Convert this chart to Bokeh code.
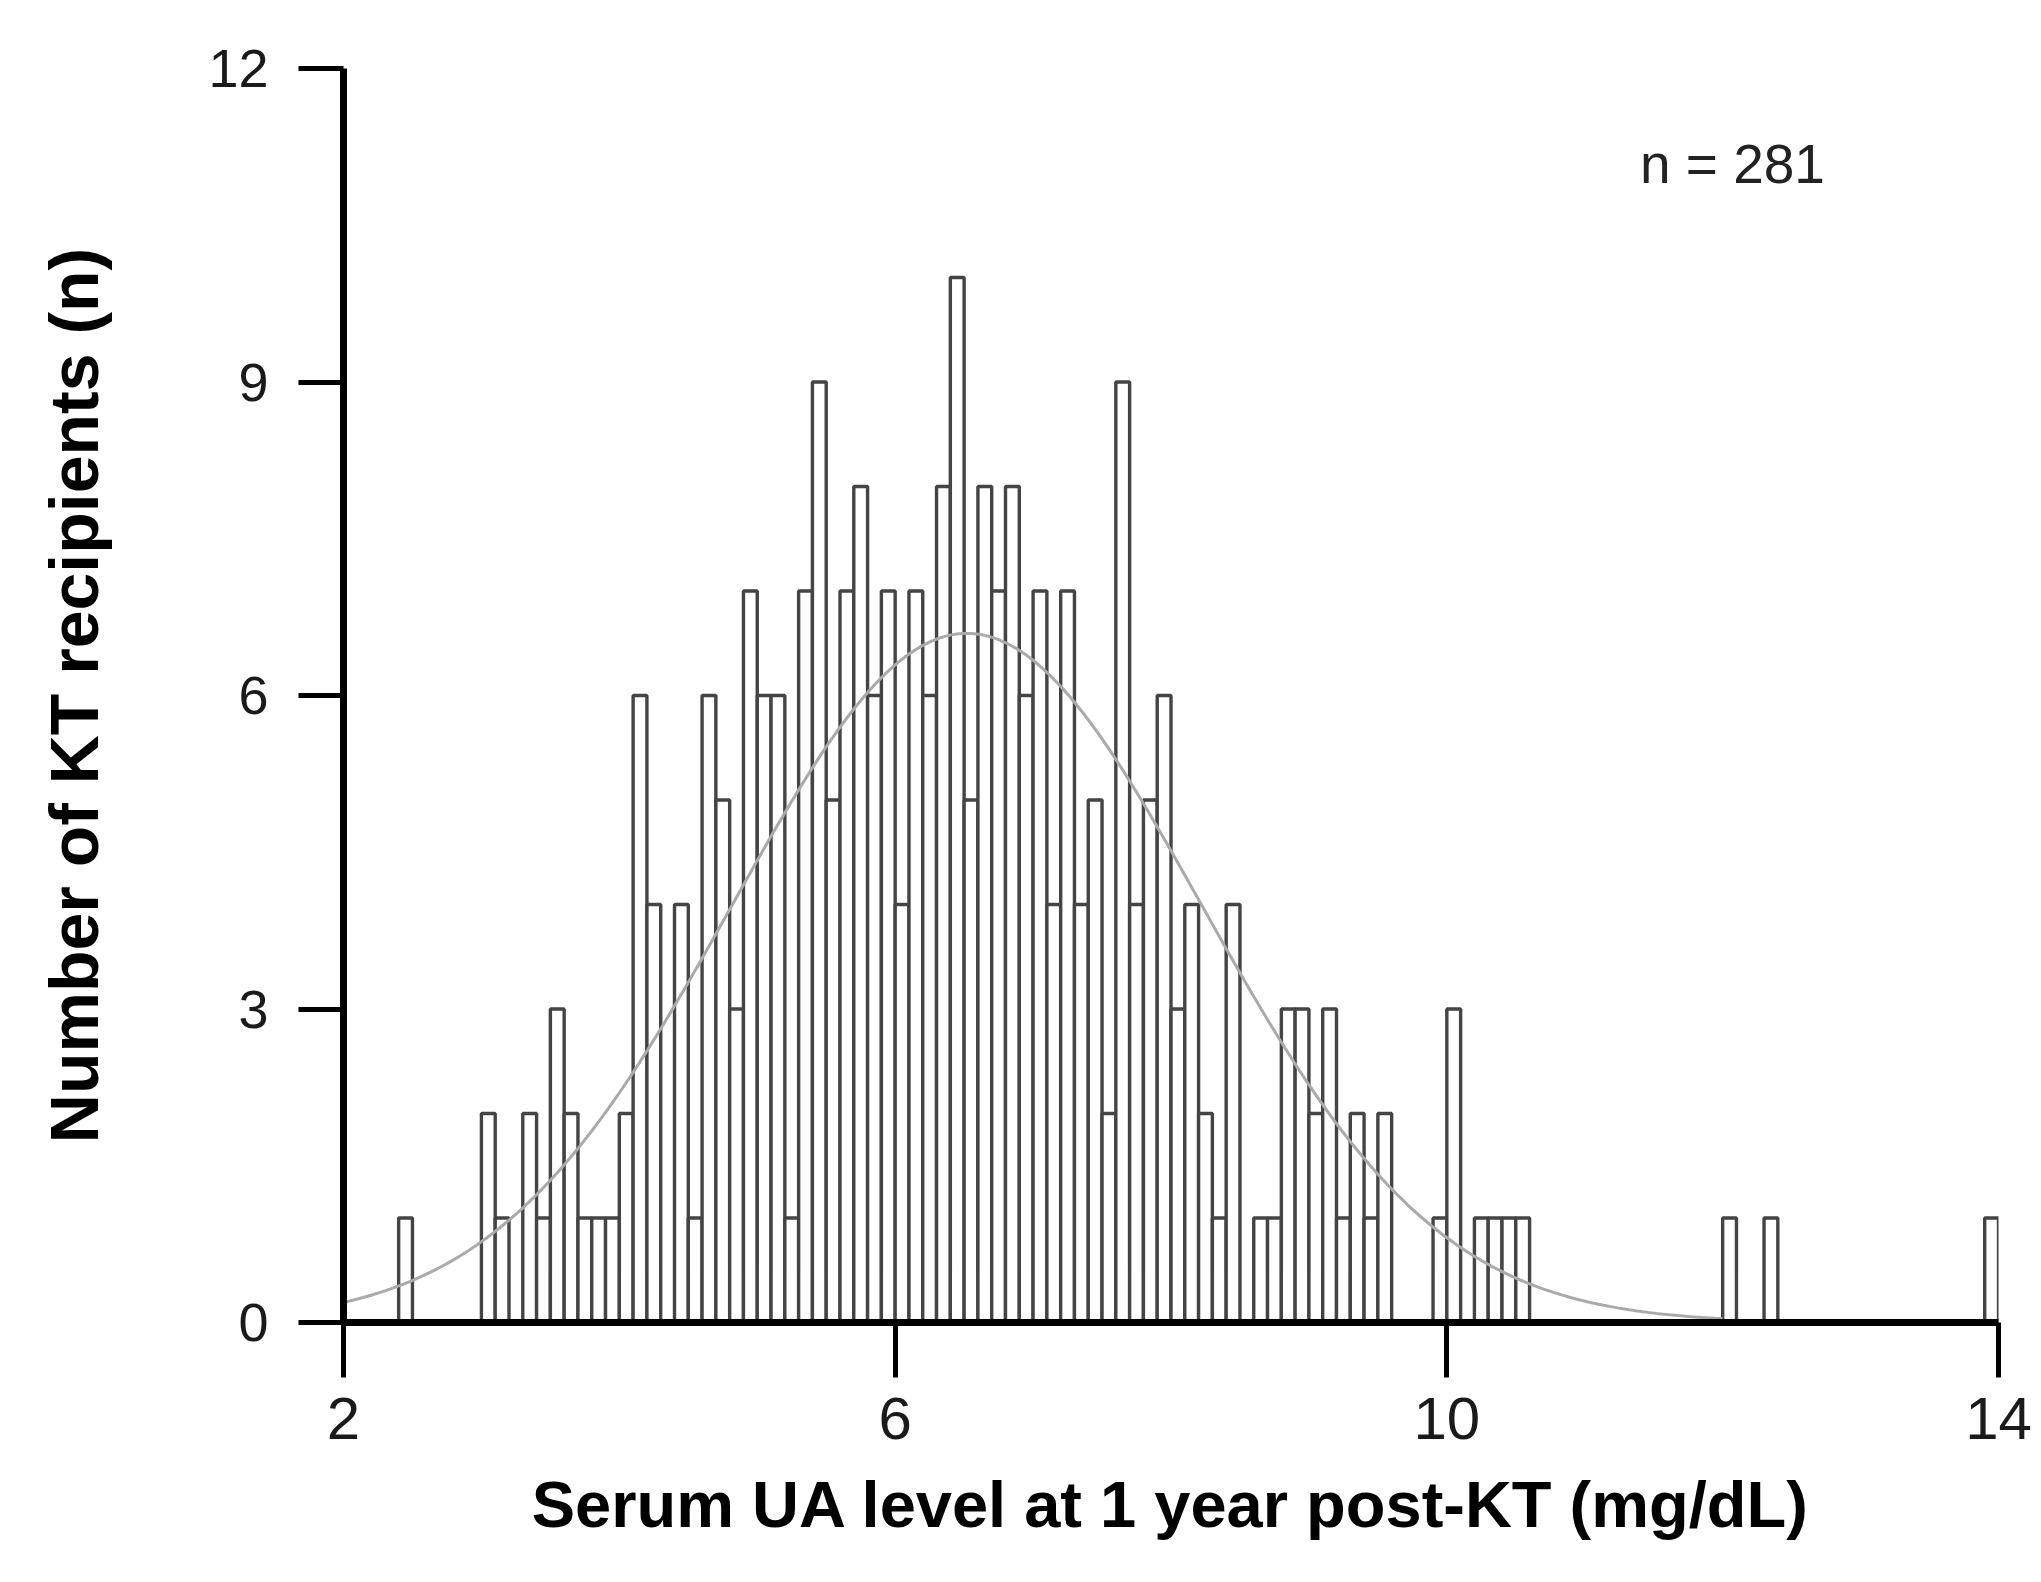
import numpy as np
from bokeh.plotting import figure
from bokeh.models import Range1d, FixedTicker, ColumnDataSource, Label
from bokeh.embed import file_html
from bokeh.resources import INLINE

# ---- data (bin width 0.1 mg/dL, bin left edges) ----
bin_left = [2.4,
            3.0, 3.1, 3.3, 3.4, 3.5, 3.6, 3.7, 3.8, 3.9,
            4.0, 4.1, 4.2, 4.4, 4.5, 4.6, 4.7, 4.8, 4.9,
            5.0, 5.1, 5.2, 5.3, 5.4, 5.5, 5.6, 5.7, 5.8, 5.9,
            6.0, 6.1, 6.2, 6.3, 6.4, 6.5, 6.6, 6.7, 6.8, 6.9,
            7.0, 7.1, 7.2, 7.3, 7.4, 7.5, 7.6, 7.7, 7.8, 7.9,
            8.0, 8.1, 8.2, 8.3, 8.4, 8.6, 8.7, 8.8, 8.9,
            9.0, 9.1, 9.2, 9.3, 9.4, 9.5, 9.9,
            10.0, 10.2, 10.3, 10.4, 10.5,
            12.0, 12.3, 13.9]
counts = [1,
          2, 1, 2, 1, 3, 2, 1, 1, 1,
          2, 6, 4, 4, 1, 6, 5, 3, 7,
          6, 6, 1, 7, 9, 5, 7, 8, 6, 7,
          4, 7, 6, 8, 10, 5, 8, 7, 8, 6,
          7, 4, 7, 4, 5, 2, 9, 4, 5, 6,
          3, 4, 2, 1, 4, 1, 1, 3, 3,
          2, 3, 1, 2, 1, 2, 1,
          3, 1, 1, 1, 1,
          1, 1, 1]
BIN_WIDTH = 0.1
N_TOTAL = 281

# Gaussian fit parameters
FIT_MEAN = 6.52
FIT_SD = 1.70
FIT_START, FIT_END = 2.0, 12.0

x_ticks = [2, 6, 10, 14]
y_ticks = [0, 3, 6, 9, 12]
x_title = "Serum UA level at 1 year post-KT (mg/dL)"
y_title = "Number of KT recipients (n)"
note = "n = 281"

# ---- figure ----
p = figure(width=2041, height=1582, output_backend="svg", toolbar_location=None,
           x_range=Range1d(2, 14), y_range=Range1d(0, 12),
           min_border_left=343, min_border_right=43,
           min_border_top=68, min_border_bottom=260)
p.background_fill_color = "white"
p.border_fill_color = "white"
p.outline_line_color = None
p.grid.visible = False

src = ColumnDataSource(dict(left=bin_left,
                            right=[b + BIN_WIDTH for b in bin_left],
                            top=counts))
p.quad(left="left", right="right", bottom=0, top="top", source=src,
       fill_color="white", line_color="#444444", line_width=3.4)

xs = np.linspace(FIT_START, FIT_END, 500)
amp = N_TOTAL * BIN_WIDTH / (FIT_SD * np.sqrt(2 * np.pi))
ys = amp * np.exp(-0.5 * ((xs - FIT_MEAN) / FIT_SD) ** 2)
p.line(xs, ys, line_color="#aaaaaa", line_width=3)

p.add_layout(Label(x=11.40, y=11.09, text=note, text_font="Liberation Sans",
                   text_font_size="55px", text_color="#222222",
                   text_baseline="alphabetic", text_align="left"))

for ax in (p.xaxis[0], p.yaxis[0]):
    ax.axis_line_color = "black"
    ax.axis_line_width = 7
    ax.major_tick_line_color = "black"
    ax.major_tick_line_width = 5
    ax.major_tick_in = 0
    ax.minor_tick_line_color = None
    ax.major_label_text_font = "Liberation Sans"
    ax.major_label_text_color = "#1a1a1a"
    ax.axis_label_text_font = "Liberation Sans"
    ax.axis_label_text_font_style = "bold"
    ax.axis_label_text_color = "black"

p.xaxis[0].ticker = FixedTicker(ticks=x_ticks)
p.yaxis[0].ticker = FixedTicker(ticks=y_ticks)
p.xaxis[0].major_label_text_font_size = "60px"
p.yaxis[0].major_label_text_font_size = "54px"
p.xaxis[0].major_tick_out = 55
p.yaxis[0].major_tick_out = 45
p.xaxis[0].major_label_standoff = 20
p.yaxis[0].major_label_standoff = 30
p.xaxis[0].axis_label = x_title
p.yaxis[0].axis_label = y_title
p.xaxis[0].axis_label_text_font_size = "65px"
p.yaxis[0].axis_label_text_font_size = "68px"
p.xaxis[0].axis_label_standoff = 26
p.yaxis[0].axis_label_standoff = 93

open("out.html", "w").write(file_html(p, INLINE))
